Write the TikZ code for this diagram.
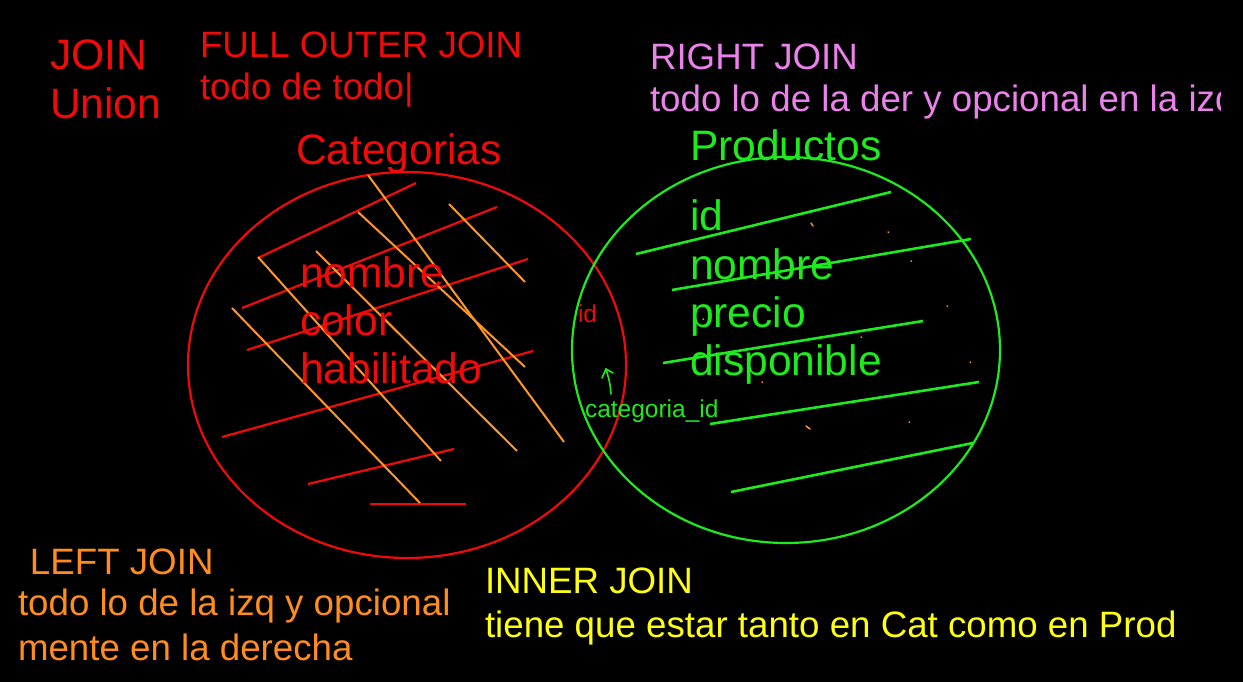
\documentclass[tikz,border=0pt]{standalone}
\usepackage{fontspec}
\setmainfont{Liberation Sans}
\definecolor{cRed}{RGB}{240,10,10}
\definecolor{cOrange}{RGB}{255,140,30}
\definecolor{cHatch}{RGB}{255,150,40}
\definecolor{cGreen}{RGB}{30,235,30}
\definecolor{cPink}{RGB}{235,130,235}
\definecolor{cYellow}{RGB}{255,255,20}
\begin{document}
\begin{tikzpicture}[x=1pt,y=-1pt,
  txt/.style={anchor=base west,inner sep=0pt,outer sep=0pt},
  big/.style={txt,font=\fontsize{42.6}{48}\selectfont},
  mid/.style={txt,font=\fontsize{36.7}{44}\selectfont},
  small/.style={txt,font=\fontsize{24.5}{28}\selectfont},
  ring/.style={line width=2.2pt},
  hatchR/.style={cRed,line width=2.2pt},
  hatchO/.style={cHatch,line width=2pt},
  hatchG/.style={cGreen,line width=2.6pt},
  speck/.style={cHatch,line width=1.5pt,line cap=round}]
\useasboundingbox (0,0) rectangle (1243,682);
\fill[black] (0,0) rectangle (1243,682);
\clip (0,0) rectangle (1243,682);

% circles
\draw[ring,cRed] (407,365) ellipse [x radius=219, y radius=193];
\draw[ring,cGreen] (786,350) ellipse [x radius=214, y radius=193];

% red hatch
\draw[hatchR] (258,258) -- (416,183);
\draw[hatchR] (242,308) -- (497,207);
\draw[hatchR] (247,350) -- (528,259);
\draw[hatchR] (222,437) -- (533,351);
\draw[hatchR] (308,484) -- (454,449);
\draw[hatchR] (370,504) -- (466,504);
% orange hatch
\draw[hatchO] (368,175) -- (564,442);
\draw[hatchO] (449,204) -- (525,282);
\draw[hatchO] (358,212) -- (525,367);
\draw[hatchO] (316,251) -- (517,451);
\draw[hatchO] (258,257) -- (441,461);
\draw[hatchO] (232,308) -- (420,503);
% green hatch
\draw[hatchG] (636,254) -- (891,192);
\draw[hatchG] (672,290) -- (971,239);
\draw[hatchG] (663,363) -- (923,321);
\draw[hatchG] (710,424) -- (979,382);
\draw[hatchG] (731,492) -- (973,443);
% specks
\foreach \p in {(888,232),(911,261),(947,306),(861,337),(970,362),(762,382),(703,319),(909,422)}
  \draw[speck] \p -- ++(0.6,0.3);
\draw[speck] (811,223) -- (813,226);
\draw[speck] (806,426) -- (810,429);

% texts
\node[big,cRed] (join) at (50,70) {JOIN};
\node[big,cRed] (union) at (50,119) {Union};
\node[mid,cRed] (full) at (200,58) {FULL OUTER JOIN};
\node[mid,cRed] (fulld) at (200,100) {todo de todo|};
\node[mid,cPink] (right) at (650,70) {RIGHT JOIN};
\begin{scope}
\clip (0,0) rectangle (1220,682);
\node[mid,cPink] (rightd) at (650,112) {todo lo de la der y opcional en la izq};
\end{scope}
\node[big,cRed] (cat) at (296,165) {Categorias};
\node[big,cGreen] (prod) at (690,161) {Productos};
\node[big,cRed] (c1) at (300,287) {nombre};
\node[big,cRed] (c2) at (300,335) {color};
\node[big,cRed] (c3) at (300,383) {habilitado};
\node[big,cGreen] (p1) at (690,230) {id};
\node[big,cGreen] (p2) at (690,279) {nombre};
\node[big,cGreen] (p3) at (690,327) {precio};
\node[big,cGreen] (p4) at (690,375) {disponible};
\node[small,cRed] (cid) at (578,322) {id};
\node[small,cGreen] (fk) at (585,417) {categoria\_id};
\node[mid,cOrange] (left) at (30,574) {LEFT JOIN};
\node[mid,cOrange] (leftd) at (18,615) {todo lo de la izq y opcional};
\node[mid,cOrange] (lefte) at (18,660) {mente en la derecha};
\node[mid,cYellow] (inner) at (485,593) {INNER JOIN};
\node[mid,cYellow] (innerd) at (485,637) {tiene que estar tanto en Cat como en Prod};

% small arrow
\coordinate (tip) at (606,369);
\coordinate (tail) at (611,394);
\draw[cGreen,line width=1.6pt,line cap=round,line join=round]
  (tail) .. controls (610,383) .. (tip);
\draw[cGreen,line width=1.6pt,line cap=round,line join=round]
  (602,378) -- (tip) -- (613,373);
\end{tikzpicture}
\end{document}
